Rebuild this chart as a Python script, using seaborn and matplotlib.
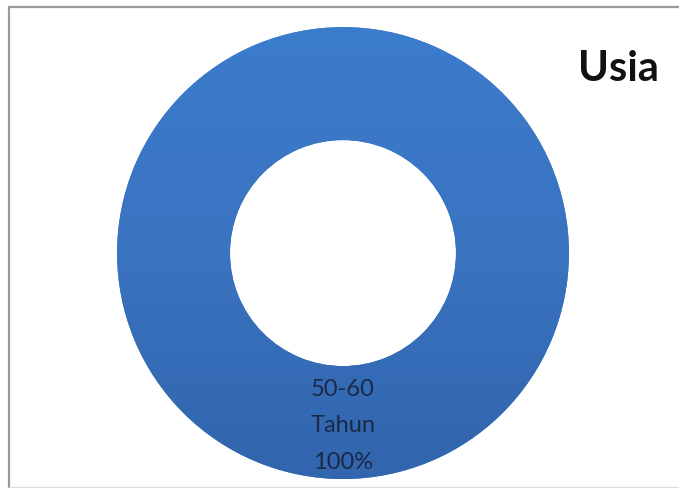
import numpy as np
import matplotlib
matplotlib.use("Agg")
import matplotlib.pyplot as plt
from matplotlib.colors import LinearSegmentedColormap
from matplotlib.lines import Line2D
import seaborn as sns

sns.set_theme(style="white")
plt.rcParams['font.family'] = ['Lato', 'DejaVu Sans']

# Data
categories = ["50-60\nTahun"]
values = [100]
title = "Usia"

fig = plt.figure(figsize=(6.79, 4.88), dpi=100)
fig.patch.set_facecolor("white")
ax = fig.add_axes([0.1723, 0.0184, 0.6657, 0.926])

wedges, texts, autotexts = ax.pie(
    values,
    labels=None,
    startangle=90,
    counterclock=True,
    radius=1.0,
    wedgeprops=dict(width=0.5, edgecolor="none", facecolor="#3a74c0"),
    autopct=lambda p: f"{categories[0]}\n{p:.0f}%",
    pctdistance=0.765,
    textprops=dict(color="#1a2947", fontsize=17),
)
for t in autotexts:
    t.set_linespacing(1.9)
    t.set_zorder(5)

# vertical gradient clipped to the ring
cmap = LinearSegmentedColormap.from_list("g", ["#3165ad", "#3a73c0", "#3c7ccd"])
grad = np.linspace(0, 1, 256).reshape(-1, 1)
for w in wedges:
    im = ax.imshow(grad, extent=[-1, 1, -1, 1], origin="lower", cmap=cmap,
                   aspect="auto", zorder=2)
    im.set_clip_path(w)

ax.set_xlim(-1, 1)
ax.set_ylim(-1, 1)
ax.set_aspect("equal")
ax.axis("off")

fig.text(578 / 679, 1 - 81 / 488, title, fontsize=30, fontweight="bold",
         color="#111111", ha="left", va="baseline")

# frame
fig.add_artist(Line2D([9 / 679, 9 / 679], [0, 1 - 7 / 488], transform=fig.transFigure,
                      color="#9a9a9a", lw=1.6))
fig.add_artist(Line2D([9 / 679, 1], [1 - 7 / 488, 1 - 7 / 488], transform=fig.transFigure,
                      color="#9a9a9a", lw=1.6))
fig.add_artist(Line2D([9 / 679, 1], [0.6 / 488, 0.6 / 488], transform=fig.transFigure,
                      color="#dddddd", lw=1.0))

fig.savefig("out.png", dpi=100, facecolor="white")
